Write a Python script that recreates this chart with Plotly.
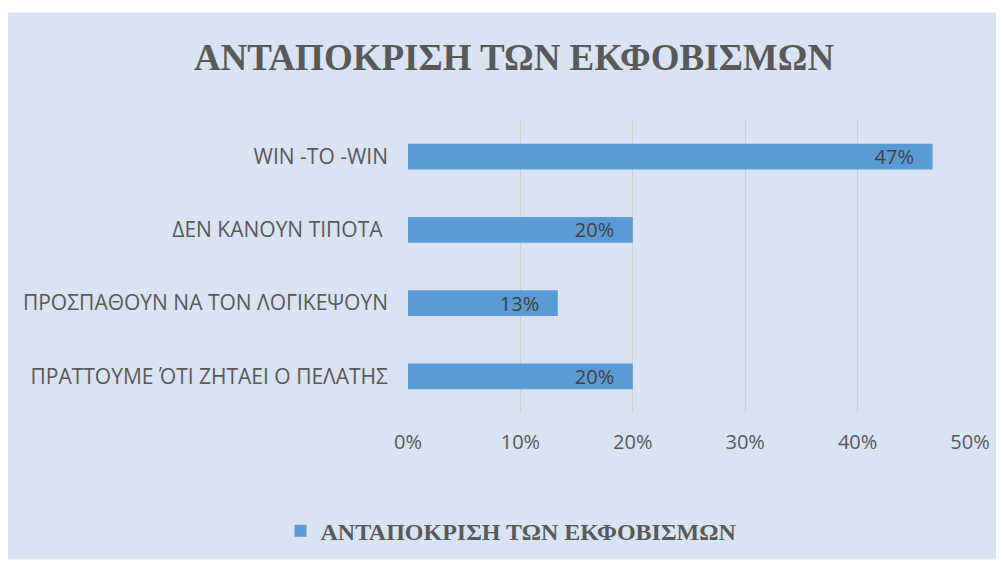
import plotly.graph_objects as go

categories = ["WIN -TO -WIN", "ΔΕΝ ΚΑΝΟΥΝ ΤΙΠΟΤΑ ", "ΠΡΟΣΠΑΘΟΥΝ ΝΑ ΤΟΝ ΛΟΓΙΚΕΨΟΥΝ", "ΠΡΑΤΤΟΥΜΕ ΌΤΙ ΖΗΤΑΕΙ Ο ΠΕΛΑΤΗΣ"]
values = [0.4667, 0.20, 0.1333, 0.20]
series_name = "ΑΝΤΑΠΟΚΡΙΣΗ ΤΩΝ ΕΚΦΟΒΙΣΜΩΝ"
title_text = "ΑΝΤΑΠΟΚΡΙΣΗ ΤΩΝ ΕΚΦΟΒΙΣΜΩΝ"
x_ticks = [0, 0.1, 0.2, 0.3, 0.4, 0.5]

# page body has an 8px margin; figure is drawn at (8, 8)
W, H = 996, 557
L, R, T, B = 400, 34, 112, 145
pw, ph = W - L - R, H - T - B

def px_x(px):
    return (px - L) / pw

def px_y(py):
    return (H - B - py) / ph

BG = "#dae3f3"
BAR = "#5b9bd5"
TXT = "#595959"

fig = go.Figure()
fig.add_trace(go.Bar(
    y=categories, x=values, orientation="h", name=series_name,
    marker=dict(color=BAR, line=dict(width=0)),
    width=0.35,
    texttemplate="%{x:.0%}\u00a0\u00a0\u00a0", textposition="inside", insidetextanchor="end",
    constraintext="none",
    textfont=dict(family="Open Sans", size=20, color="#404040"),
    showlegend=True,
))

fig.update_layout(
    width=W, height=H,
    margin=dict(l=L, r=R, t=T, b=B, pad=0),
    paper_bgcolor="white", plot_bgcolor="rgba(0,0,0,0)",
    title=dict(text=title_text, x=506 / W, xanchor="center", y=1 - 49 / H, yanchor="middle",
               yref="container",
               font=dict(family="Liberation Serif", size=37, color=TXT, weight="bold")),
    xaxis=dict(range=[0, 0.5], tickvals=x_ticks, tickformat=".0%",
               showgrid=True, gridcolor="#d0d0d0", gridwidth=1,
               zeroline=False, showline=False, ticks="",
               ticklabelstandoff=15,
               tickfont=dict(family="Open Sans", size=20, color=TXT)),
    yaxis=dict(autorange="reversed", showgrid=False, showline=False, ticks="",
               ticklabelstandoff=19,
               tickfont=dict(family="Open Sans", size=21, color=TXT)),
    legend=dict(orientation="h", x=px_x(503), xanchor="center", y=px_y(533), yanchor="middle",
                bgcolor="rgba(0,0,0,0)", itemwidth=30,
                font=dict(family="Liberation Serif", size=24, color=TXT, weight="bold")),
    bargap=0.65,
    shapes=[dict(type="rect", xref="paper", yref="paper", layer="below",
                 x0=px_x(0), x1=px_x(W + 5), y0=px_y(H + 5), y1=px_y(2),
                 fillcolor=BG, line=dict(width=0))],
)

fig.write_html("out.html")
